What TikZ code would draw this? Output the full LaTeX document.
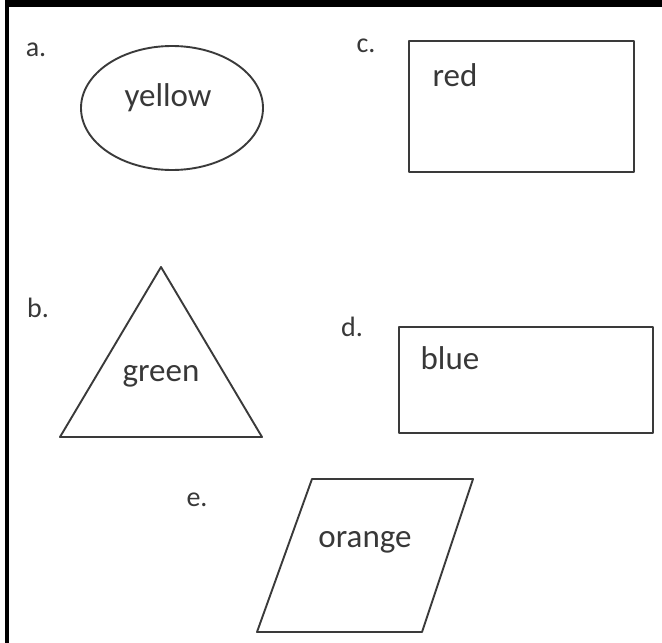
\documentclass[tikz,border=0pt]{standalone}
\usepackage{fontspec}
\setmainfont{Carlito}
\usepackage{tikz}
\usetikzlibrary{positioning}
\definecolor{inkgrey}{HTML}{3A3A3A}
\definecolor{textgrey}{HTML}{383838}
\tikzset{
  %% outline of a shape
  shapeline/.style={draw=inkgrey, line width=1.9pt, line join=round},
  %% word written in a shape
  word/.style={text=textgrey, font=\fontsize{33}{38}\selectfont, inner sep=0pt},
  %% item letter
  itemlbl/.style={text=textgrey, font=\fontsize{28}{33}\selectfont, inner sep=0pt},
}

\begin{document}
\begin{tikzpicture}[x=1pt, y=-1pt]
  \useasboundingbox (0,0) rectangle (662,643);

  % frame (top and left edges)
  \fill[black] (5,0) rectangle (662,7);
  \fill[black] (5,0) rectangle (9,643);

  % a. ellipse
  \node[itemlbl] (la) at (36,50) {a.};
  \draw[shapeline] (172,108) ellipse [x radius=91, y radius=62];
  \node[word] (yellow) at (168,98) {yellow};

  % b. triangle
  \node[itemlbl] (lb) at (38,308) {b.};
  \draw[shapeline] (161,267) -- (262,437) -- (60,437) -- cycle;
  \node[word] (green) at (161,376) {green};

  % c. rectangle
  \node[itemlbl] (lc) at (366,46) {c.};
  \draw[shapeline] (409,41) rectangle (634,172);
  \node[word] (red) at (455,75) {red};

  % d. rectangle
  \node[itemlbl] (ld) at (352,327) {d.};
  \draw[shapeline] (399,327) rectangle (653,433);
  \node[word] (blue) at (450,358) {blue};

  % e. parallelogram
  \node[itemlbl] (le) at (197,500) {e.};
  \draw[shapeline] (312,479) -- (473,479) -- (422,632) -- (257,632) -- cycle;
  \node[word] (orange) at (365,542) {orange};

\end{tikzpicture}
\end{document}
